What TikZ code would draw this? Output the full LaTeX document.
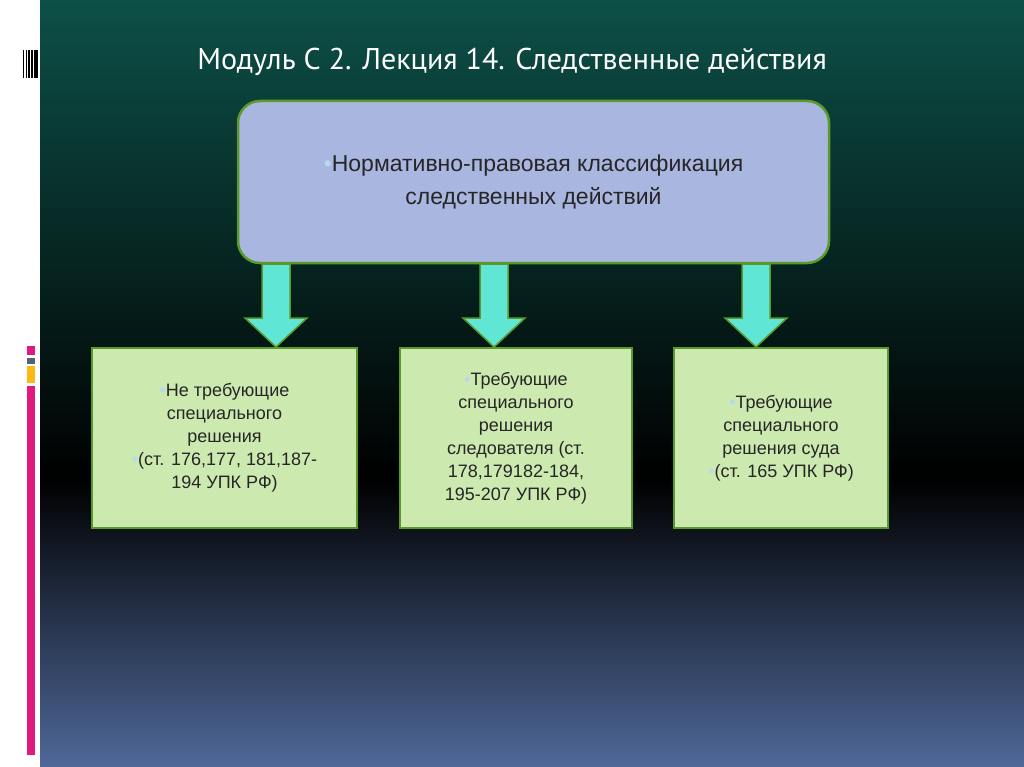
\documentclass[tikz,border=0pt]{standalone}
\usepackage{fontspec}
\setmainfont{PT Sans}
\newfontfamily\bodyf{Liberation Sans}
\definecolor{topg}{HTML}{0D5048}
\definecolor{botb}{HTML}{4F6899}
\definecolor{bluebox}{HTML}{A9B6E0}
\definecolor{greenbox}{HTML}{CCE9B0}
\definecolor{edge}{HTML}{5A9A2A}
\definecolor{arrowf}{HTML}{5FE6D5}
\definecolor{bul}{HTML}{B8D8F0}
\definecolor{pinkb}{HTML}{E0197D}
\definecolor{grayb}{HTML}{556070}
\definecolor{yelb}{HTML}{FDB813}
\newcommand{\bl}{{\color{bul}\textbullet}}
\tikzset{
  box/.style={draw=edge,line width=2pt,fill=greenbox,align=center,font=\bodyf\fontsize{18}{23}\selectfont,text=black!85},
  arr/.style={draw=edge,line width=1.5pt,fill=arrowf}
}
\begin{document}
\begin{tikzpicture}[x=1pt,y=-1pt]
\useasboundingbox (0,0) rectangle (1024,767);
\fill[white] (0,0) rectangle (40,767);
\shade[top color=topg,bottom color=black] (40,0) rectangle (1024,480);
\shade[top color=black,bottom color=botb] (40,479.5) rectangle (1024,767);
\foreach \x/\w in {23/1,25.5/1,28/1.5,30.5/2,33.5/2,36/1.5}
  \fill[black] (\x,50) rectangle (\x+\w,78);
\fill[pinkb] (27,346) rectangle (35,355);
\fill[grayb] (27,358) rectangle (35,364);
\fill[yelb] (27,366) rectangle (35,383);
\fill[pinkb] (27,386) rectangle (35,755);
\node[text=white,font=\fontsize{30}{34}\selectfont] (title) at (512,62) {Модуль С 2. Лекция 14. Следственные действия};
\node[draw=edge,line width=2.5pt,fill=bluebox,rounded corners=22pt,minimum width=591pt,minimum height=162pt,align=center,font=\bodyf\fontsize{23}{33}\selectfont,text=black!85] (top) at (533.5,182) {\bl Нормативно-правовая классификация\\ следственных действий};
\node[box,minimum width=265pt,minimum height=180pt] (b1) at (224.5,438) {\bl Не требующие\\ специального\\ решения\\ \bl(ст. 176,177, 181,187-\\ 194 УПК РФ)};
\node[box,minimum width=232pt,minimum height=180pt] (b2) at (516,438) {\bl Требующие\\ специального\\ решения\\ следователя (ст.\\ 178,179182-184,\\ 195-207 УПК РФ)};
\node[box,minimum width=214pt,minimum height=180pt] (b3) at (781,438) {\bl Требующие\\ специального\\ решения суда\\ \bl(ст. 165 УПК РФ)};
\foreach \cx in {276,494,756}
  \draw[arr] (\cx-14,264) -- (\cx+14,264) -- (\cx+14,318) -- (\cx+31,318) -- (\cx,347) -- (\cx-31,318) -- (\cx-14,318) -- cycle;
\end{tikzpicture}
\end{document}
